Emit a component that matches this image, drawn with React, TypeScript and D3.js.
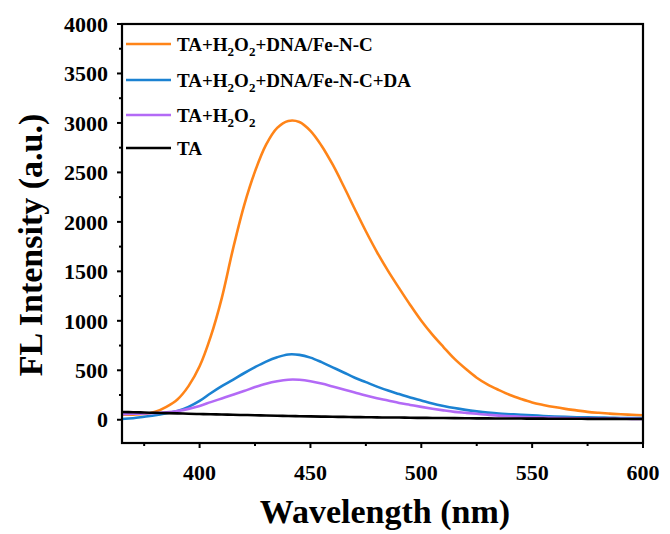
import React from 'react';
import * as d3 from 'd3';

// wavelengths (nm) shared by every spectrum
const wavelengths = [
  365, 370, 375, 380, 385, 390, 395, 400, 405, 410, 415, 420, 425, 430, 435,
  440, 445, 450, 455, 460, 465, 470, 475, 480, 485, 490, 495, 500, 505, 510,
  515, 520, 525, 530, 535, 540, 545, 550, 555, 560, 565, 570, 575, 580, 585,
  590, 595, 600
];

const fenc = [
  50, 52, 58, 80, 130, 205, 340, 540, 840, 1230, 1720, 2160, 2510, 2780, 2950,
  3020, 3010, 2920, 2770, 2580, 2360, 2130, 1905, 1695, 1505, 1330, 1160, 1000,
  860, 735, 615, 515, 425, 355, 300, 250, 210, 175, 150, 128, 110, 95, 80, 70,
  62, 55, 50, 45
];

const fencDA = [
  8, 15, 30, 45, 65, 88, 130, 190, 268, 340, 404, 470, 532, 588, 632, 660, 656,
  628, 582, 530, 478, 425, 380, 335, 295, 260, 225, 195, 165, 140, 118, 100, 85,
  72, 62, 56, 50, 45, 38, 33, 29, 26, 24, 22, 20, 18, 17, 16
];

const h2o2 = [
  55, 60, 63, 68, 75, 88, 110, 140, 178, 215, 252, 290, 330, 365, 390, 405, 404,
  390, 366, 336, 305, 275, 245, 218, 195, 170, 150, 130, 112, 95, 80, 70, 60, 50,
  42, 36, 30, 26, 22, 19, 17, 15, 13, 12, 11, 10, 9, 8
];

const ta = [
  78, 76, 73, 70, 67, 64, 61, 58, 55, 53, 50, 48, 46, 43, 41, 38, 36, 34, 32, 30,
  29, 27, 26, 24, 23, 22, 20, 19, 18, 17, 16, 15, 14, 14, 13, 12, 12, 11, 11, 10,
  10, 10, 9, 9, 9, 8, 8, 8
];

const yTicks = [0, 500, 1000, 1500, 2000, 2500, 3000, 3500, 4000];
const yMinor = [250, 750, 1250, 1750, 2250, 2750, 3250, 3750];
const xTicks = [400, 450, 500, 550, 600];
const xMinor = [375, 425, 475, 525, 575];

const series = [
  { name: 'fenc', color: '#FF8418', values: fenc },
  { name: 'fencDA', color: '#1B82D2', values: fencDA },
  { name: 'h2o2', color: '#B36AF6', values: h2o2 },
  { name: 'ta', color: '#000000', values: ta }
];

const left = 122;
const right = 643;
const top = 24;
const bottom = 443;
const font = '"Liberation Serif", "Times New Roman", serif';

export default function App() {
  const x = d3.scaleLinear().domain([365, 600]).range([left, right]);
  const y = d3.scaleLinear().domain([-235, 4000]).range([bottom, top]);

  const line = d3
    .line<number>()
    .x((d, i) => x(wavelengths[i]))
    .y(d => y(d))
    .curve(d3.curveCatmullRom.alpha(0.5));

  const legendY = [44, 80, 115, 148];

  // legend label with subscripts
  const label = (i: number) => {
    const sub = (t: string) => (
      <tspan fontSize={13} dy={5}>
        {t}
      </tspan>
    );
    const up = (t: string) => <tspan dy={-5}>{t}</tspan>;
    if (i === 0)
      return (
        <>
          TA+H{sub('2')}
          {up('O')}
          {sub('2')}
          {up('+DNA/Fe-N-C')}
        </>
      );
    if (i === 1)
      return (
        <>
          TA+H{sub('2')}
          {up('O')}
          {sub('2')}
          {up('+DNA/Fe-N-C+DA')}
        </>
      );
    if (i === 2)
      return (
        <>
          TA+H{sub('2')}
          {up('O')}
          {sub('2')}
        </>
      );
    return <>TA</>;
  };

  return (
    <svg
      width={670}
      height={534}
      style={{ position: 'absolute', left: 0, top: 0, background: '#fff' }}
      fontFamily={font}
      fontWeight="bold"
    >
      <defs>
        <clipPath id="plot">
          <rect x={left} y={top} width={right - left} height={bottom - top} />
        </clipPath>
      </defs>

      <g clipPath="url(#plot)">
        {series.map(s => (
          <path
            key={s.name}
            d={line(s.values) || ''}
            fill="none"
            stroke={s.color}
            strokeWidth={2.6}
          />
        ))}
      </g>

      {/* frame */}
      <rect
        x={left}
        y={top}
        width={right - left}
        height={bottom - top}
        fill="none"
        stroke="#000"
        strokeWidth={2.2}
      />

      {/* y axis */}
      {yTicks.map(t => (
        <g key={'y' + t}>
          <line x1={left - 5} x2={left} y1={y(t)} y2={y(t)} stroke="#000" strokeWidth={2} />
          <text x={108} y={y(t)} dy="0.35em" textAnchor="end" fontSize={22}>
            {t}
          </text>
        </g>
      ))}
      {yMinor.map(t => (
        <line key={'ym' + t} x1={left - 3} x2={left} y1={y(t)} y2={y(t)} stroke="#000" strokeWidth={2} />
      ))}

      {/* x axis */}
      {xTicks.map(t => (
        <g key={'x' + t}>
          <line x1={x(t)} x2={x(t)} y1={bottom} y2={bottom + 5} stroke="#000" strokeWidth={2} />
          <text x={x(t)} y={480} textAnchor="middle" fontSize={22}>
            {t}
          </text>
        </g>
      ))}
      {xMinor.map(t => (
        <line key={'xm' + t} x1={x(t)} x2={x(t)} y1={bottom} y2={bottom + 3} stroke="#000" strokeWidth={2} />
      ))}

      <text x={385} y={523} textAnchor="middle" fontSize={34}>
        Wavelength (nm)
      </text>
      <text
        transform="translate(42,245) rotate(-90)"
        textAnchor="middle"
        fontSize={34}
      >
        FL Intensity (a.u.)
      </text>

      {/* legend */}
      {series.map((s, i) => (
        <g key={'lg' + s.name}>
          <line x1={126} x2={171} y1={legendY[i]} y2={legendY[i]} stroke={s.color} strokeWidth={2.6} />
          <text x={177} y={legendY[i] + 7} fontSize={19}>
            {label(i)}
          </text>
        </g>
      ))}
    </svg>
  );
}
